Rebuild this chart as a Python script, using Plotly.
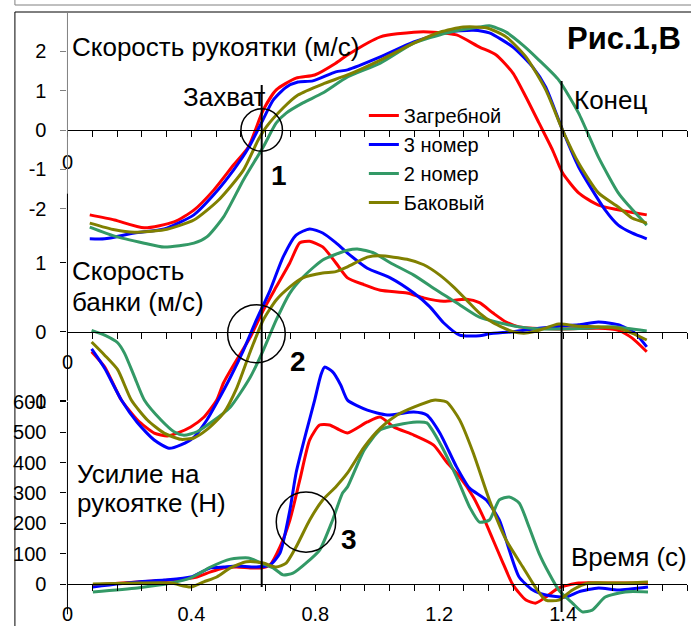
import plotly.graph_objects as go

W, H = 691, 626
FONT = "Liberation Sans, Arial, sans-serif"

names = ["Загребной", "3 номер", "2 номер", "Баковый"]
colors = ["#FF0000", "#0000FF", "#339966", "#808000"]

# ---------- Panel 1: handle velocity (m/s) ----------
hv_red_t = [0.072,0.152,0.248,0.344,0.408,0.472,0.536,0.584,0.632,0.674,0.738,0.798,0.866,0.904,1.01,1.118,1.182,1.256,1.33,1.384,1.438,1.48,1.522,1.566,1.598,1.65,1.714,1.87]
hv_red_v = [-2.16,-2.29,-2.49,-2.34,-2.04,-1.53,-0.89,-0.43,0.51,1.02,1.32,1.40,1.70,1.91,2.37,2.49,2.49,2.42,2.11,1.91,1.45,0.84,0.18,-0.51,-1.09,-1.60,-1.91,-2.16]
hv_blue_t = [0.072,0.12,0.216,0.312,0.408,0.472,0.536,0.584,0.626,0.664,0.706,0.744,0.792,0.866,0.904,1.01,1.118,1.224,1.31,1.362,1.438,1.502,1.544,1.598,1.65,1.736,1.778,1.822,1.87]
hv_blue_v = [-2.77,-2.77,-2.62,-2.52,-2.16,-1.65,-1.02,-0.46,0.18,0.76,1.09,1.22,1.25,1.48,1.53,1.86,2.24,2.49,2.54,2.47,2.11,1.60,1.09,0.0,-0.94,-2.04,-2.42,-2.62,-2.77]
hv_green_t = [0.072,0.152,0.248,0.312,0.408,0.45,0.504,0.568,0.632,0.674,0.706,0.76,0.824,0.904,1.01,1.118,1.224,1.33,1.362,1.416,1.47,1.522,1.586,1.65,1.714,1.778,1.81,1.87]
hv_green_v = [-2.47,-2.70,-2.88,-2.98,-2.88,-2.72,-2.21,-1.27,-0.43,0.18,0.43,0.69,0.94,1.35,1.70,2.21,2.47,2.62,2.65,2.49,2.16,1.78,1.27,0.43,-0.69,-1.60,-1.91,-2.42]
hv_olive_t = [0.072,0.152,0.216,0.312,0.408,0.488,0.568,0.616,0.642,0.696,0.744,0.824,0.904,1.01,1.118,1.202,1.278,1.352,1.416,1.48,1.544,1.598,1.65,1.714,1.778,1.822,1.87]
hv_olive_v = [-2.37,-2.54,-2.60,-2.54,-2.29,-1.78,-1.02,-0.25,0.08,0.56,0.89,1.17,1.40,1.78,2.21,2.49,2.62,2.60,2.37,1.86,1.02,0.0,-0.84,-1.60,-1.96,-2.24,-2.37]

# ---------- Panel 2: carriage (bank) velocity (m/s) ----------
bv_red_t = [0.078,0.12,0.174,0.226,0.28,0.322,0.354,0.398,0.44,0.482,0.504,0.546,0.59,0.632,0.674,0.718,0.75,0.782,0.824,0.866,0.904,0.958,1.01,1.096,1.15,1.214,1.288,1.33,1.374,1.416,1.458,1.586,1.714,1.778,1.822,1.87]
bv_red_v = [-0.29,-0.51,-0.99,-1.28,-1.47,-1.51,-1.47,-1.38,-1.24,-0.99,-0.74,-0.41,-0.08,0.31,0.65,1.0,1.29,1.31,1.23,1.0,0.78,0.68,0.60,0.56,0.49,0.44,0.47,0.42,0.27,0.14,0.07,0.04,0.05,0.02,-0.09,-0.29]
bv_blue_t = [0.078,0.12,0.174,0.226,0.28,0.328,0.366,0.408,0.45,0.482,0.526,0.568,0.61,0.654,0.696,0.738,0.782,0.824,0.866,0.904,0.968,1.042,1.118,1.17,1.214,1.266,1.33,1.362,1.438,1.522,1.586,1.65,1.714,1.778,1.832,1.87]
bv_blue_v = [-0.25,-0.53,-0.99,-1.32,-1.57,-1.69,-1.64,-1.53,-1.28,-1.03,-0.66,-0.27,0.17,0.60,1.08,1.40,1.49,1.43,1.29,1.14,0.92,0.78,0.56,0.36,0.13,-0.05,-0.06,-0.03,0.0,0.05,0.08,0.10,0.14,0.10,-0.02,-0.22]
bv_green_t = [0.078,0.12,0.162,0.184,0.216,0.248,0.302,0.344,0.376,0.418,0.462,0.526,0.59,0.632,0.674,0.718,0.76,0.824,0.904,0.936,0.99,1.042,1.118,1.192,1.256,1.33,1.394,1.458,1.522,1.598,1.672,1.758,1.87]
bv_green_v = [0.02,-0.05,-0.16,-0.31,-0.65,-0.99,-1.28,-1.45,-1.50,-1.45,-1.32,-1.09,-0.66,-0.27,0.17,0.56,0.79,1.04,1.18,1.20,1.14,1.0,0.82,0.60,0.42,0.21,0.13,0.07,0.04,0.04,0.05,0.07,0.01]
bv_olive_t = [0.078,0.12,0.162,0.206,0.258,0.312,0.366,0.408,0.45,0.504,0.546,0.59,0.632,0.674,0.718,0.76,0.824,0.866,0.904,0.968,1.01,1.096,1.15,1.202,1.246,1.288,1.33,1.374,1.438,1.48,1.522,1.586,1.65,1.714,1.778,1.822,1.87]
bv_olive_v = [-0.15,-0.34,-0.55,-0.99,-1.28,-1.47,-1.56,-1.54,-1.42,-1.18,-0.82,-0.29,0.17,0.46,0.65,0.78,0.85,0.87,0.94,1.08,1.10,1.05,0.97,0.82,0.65,0.46,0.27,0.13,0.0,-0.02,0.02,0.11,0.08,0.07,0.05,-0.02,-0.12]

# ---------- Panel 3: handle force (N) ----------
f_red_t = [0.082,0.226,0.334,0.418,0.462,0.504,0.546,0.59,0.626,0.654,0.686,0.718,0.75,0.782,0.814,0.846,0.878,0.904,0.968,1.01,1.054,1.118,1.182,1.224,1.266,1.31,1.342,1.374,1.406,1.438,1.48,1.512,1.544,1.586,1.65,1.758,1.874]
f_red_v = [-3,7,13,23,40,53,56,53,53,63,122,211,343,475,524,524,508,498,534,550,517,491,458,402,353,287,221,145,69,-3,-53,-63,-43,-13,3,3,3]
f_blue_t = [0.082,0.226,0.312,0.398,0.462,0.504,0.546,0.61,0.654,0.686,0.718,0.738,0.77,0.798,0.818,0.83,0.856,0.882,0.904,0.968,1.032,1.118,1.16,1.202,1.256,1.298,1.352,1.394,1.426,1.458,1.502,1.544,1.608,1.65,1.714,1.778,1.874]
f_blue_v = [-10,7,13,23,53,56,59,56,63,102,244,366,498,606,689,715,699,656,606,573,557,567,557,498,386,316,277,211,112,23,-20,-36,-43,-26,-13,-20,-10]
f_green_t = [0.082,0.226,0.334,0.398,0.462,0.526,0.584,0.626,0.664,0.696,0.728,0.77,0.814,0.856,0.888,0.904,0.958,1.01,1.064,1.128,1.16,1.202,1.256,1.298,1.33,1.362,1.394,1.426,1.458,1.49,1.522,1.554,1.586,1.63,1.662,1.694,1.736,1.8,1.874]
f_green_v = [-26,-13,3,20,56,82,86,69,53,30,36,69,112,211,300,320,442,508,524,534,531,465,353,254,204,211,277,287,267,188,102,36,-20,-63,-92,-86,-43,-26,-26]
f_olive_t = [0.082,0.226,0.334,0.398,0.44,0.482,0.526,0.578,0.632,0.674,0.706,0.738,0.782,0.824,0.866,0.904,0.958,1.01,1.064,1.118,1.182,1.224,1.266,1.31,1.362,1.416,1.47,1.512,1.544,1.586,1.63,1.682,1.778,1.874]
f_olive_v = [0,3,3,-10,7,23,53,73,69,56,69,122,211,277,320,366,452,514,557,583,606,600,541,432,277,145,56,-13,-53,-53,-20,3,3,7]

# ---------- axes / labels ----------
x_tick_labels = {0.0: "0", 0.4: "0.4", 0.8: "0.8", 1.2: "1.2", 1.6: "1.4"}
x_minor_step = 0.08
x_max = 2.0
hv_ticks = [-2, -1, 0, 1, 2]
bv_ticks = [-1, 0, 1]
f_ticks = [0, 100, 200, 300, 400, 500, 600]
events = {"Захват": 0.627, "Конец": 1.595}

# ---------- pixel geometry of the composite ----------
XL, XR = 62.0, 687.0
def px(x): return x / W
def py(y): return 1 - y / H

def yrange(zero_px, px_per_unit):
    return [-(H - zero_px) / px_per_unit, zero_px / px_per_unit]

fig = go.Figure()
panels = [
    ("x2", "y", [(hv_red_t, hv_red_v), (hv_blue_t, hv_blue_v), (hv_green_t, hv_green_v), (hv_olive_t, hv_olive_v)], True),
    ("x3", "y2", [(bv_red_t, bv_red_v), (bv_blue_t, bv_blue_v), (bv_green_t, bv_green_v), (bv_olive_t, bv_olive_v)], False),
    ("x", "y3", [(f_red_t, f_red_v), (f_blue_t, f_blue_v), (f_green_t, f_green_v), (f_olive_t, f_olive_v)], False),
]
for xa, ya, series, show in panels:
    for i, (t, v) in enumerate(series):
        fig.add_trace(go.Scatter(
            x=t, y=v, mode="lines", name=names[i], xaxis=xa, yaxis=ya,
            line=dict(color=colors[i], width=3, shape="spline", smoothing=0.6),
            showlegend=show, hoverinfo="skip"))

n_minor = int(round(x_max / x_minor_step))
tickvals = [round(k * x_minor_step, 2) for k in range(n_minor + 1)]
full_text = [x_tick_labels.get(v, "") for v in tickvals]
zero_text = ["0" if v == 0 else "" for v in tickvals]

tickfont = dict(family=FONT, size=20, color="black")
xcommon = dict(domain=[px(XL), px(XR)], range=[0, x_max], anchor="free",
               showgrid=False, zeroline=False, showline=True, linecolor="black",
               linewidth=1, ticks="outside", ticklen=6, tickcolor="black",
               tickmode="array", tickvals=tickvals, tickfont=tickfont)
ycommon = dict(domain=[0, 1], showgrid=False, zeroline=False, showline=False,
               ticks="outside", ticklen=6, tickcolor="black", tickmode="array",
               tickfont=tickfont, ticklabelstandoff=10)

def ylabels(vals):
    return [str(v) for v in vals]

fig.update_layout(
    width=W, height=H, margin=dict(l=0, r=0, t=0, b=0),
    paper_bgcolor="white", plot_bgcolor="rgba(0,0,0,0)",
    font=dict(family=FONT, color="black"),
    xaxis=dict(xcommon, position=py(584), ticktext=full_text, ticklabelstandoff=6),
    xaxis2=dict(xcommon, position=py(130), ticktext=zero_text, matches="x", ticklabelstandoff=8),
    xaxis3=dict(xcommon, position=py(331.7), ticktext=zero_text, matches="x", ticklabelstandoff=6),
    yaxis=dict(ycommon, range=yrange(130, 39.3), anchor="x2", tickvals=hv_ticks,
               ticktext=ylabels(hv_ticks), tickcolor="#808080"),
    yaxis2=dict(ycommon, range=yrange(331.7, 69.0), anchor="x3", tickvals=bv_ticks,
                ticktext=ylabels(bv_ticks)),
    yaxis3=dict(ycommon, range=yrange(584, 0.3034), anchor="x", tickvals=f_ticks,
                ticktext=ylabels(f_ticks)),
    legend=dict(x=px(361), y=py(96), xanchor="left", yanchor="top",
                font=dict(family=FONT, size=20, color="black"),
                bgcolor="rgba(0,0,0,0)", tracegroupgap=0),
    showlegend=True,
)

shapes = [
    # frame
    dict(type="rect", xref="paper", yref="paper", x0=px(9), x1=1.05, y0=-0.05, y1=py(12),
         line=dict(color="black", width=1)),
    dict(type="line", xref="paper", yref="paper", x0=px(9), x1=1.0, y0=py(5), y1=py(5),
         line=dict(color="#808080", width=1)),
    dict(type="line", xref="paper", yref="paper", x0=px(9), x1=px(9), y0=py(5), y1=1.0,
         line=dict(color="#808080", width=1)),
    # y axis lines of the three panels
    dict(type="line", xref="paper", yref="y", x0=px(XL), x1=px(XL), y0=-3, y1=3,
         line=dict(color="#808080", width=1)),
    dict(type="line", xref="paper", yref="y2", x0=px(XL), x1=px(XL), y0=-1, y1=2,
         line=dict(color="black", width=1)),
    dict(type="line", xref="paper", yref="y3", x0=px(XL), x1=px(XL), y0=-100, y1=600,
         line=dict(color="black", width=1)),
    # event lines
    dict(type="line", xref="x", yref="paper", x0=events["Захват"], x1=events["Захват"],
         y0=py(85), y1=py(587), line=dict(color="black", width=2)),
    dict(type="line", xref="x", yref="paper", x0=events["Конец"], x1=events["Конец"],
         y0=py(81), y1=py(612), line=dict(color="black", width=2)),
    # circles around catch points
    dict(type="circle", xref="x2", yref="y", x0=0.627 - 0.067, x1=0.627 + 0.067,
         y0=-0.54, y1=0.54, line=dict(color="black", width=1.5)),
    dict(type="circle", xref="x3", yref="y2", x0=0.61 - 0.093, x1=0.61 + 0.093,
         y0=-0.03 - 0.42, y1=-0.03 + 0.42, line=dict(color="black", width=1.5)),
    dict(type="circle", xref="x", yref="y3", x0=0.77 - 0.096, x1=0.77 + 0.096,
         y0=204 - 99, y1=204 + 99, line=dict(color="black", width=1.5)),
]
fig.update_layout(shapes=shapes)

def note(text, x, y, xanchor="left", size=26, bold=False):
    t = f"<b>{text}</b>" if bold else text
    fig.add_annotation(text=t, x=px(x), y=py(y), xref="paper", yref="paper",
                       xanchor=xanchor, yanchor="middle", showarrow=False,
                       font=dict(family=FONT, size=size, color="black"))

note("Скорость рукоятки (м/с)", 65, 47)
note("Захват", 264, 97, xanchor="right")
note("Конец", 571, 100)
note("Рис.1,В", 564, 39, size=31, bold=True)
note("1", 275, 175, xanchor="center", size=28, bold=True)
note("2", 295, 361, xanchor="center", size=28, bold=True)
note("3", 346, 539, xanchor="center", size=28, bold=True)
note("Скорость", 65, 271)
note("банки (м/с)", 65, 302)
note("Усилие на", 70, 474)
note("рукоятке (Н)", 70, 503)
note("Время (с)", 568, 557)

fig.write_html("out.html", config={"displayModeBar": False},
               post_script="document.body.style.margin='0';document.body.style.overflow='hidden';")
